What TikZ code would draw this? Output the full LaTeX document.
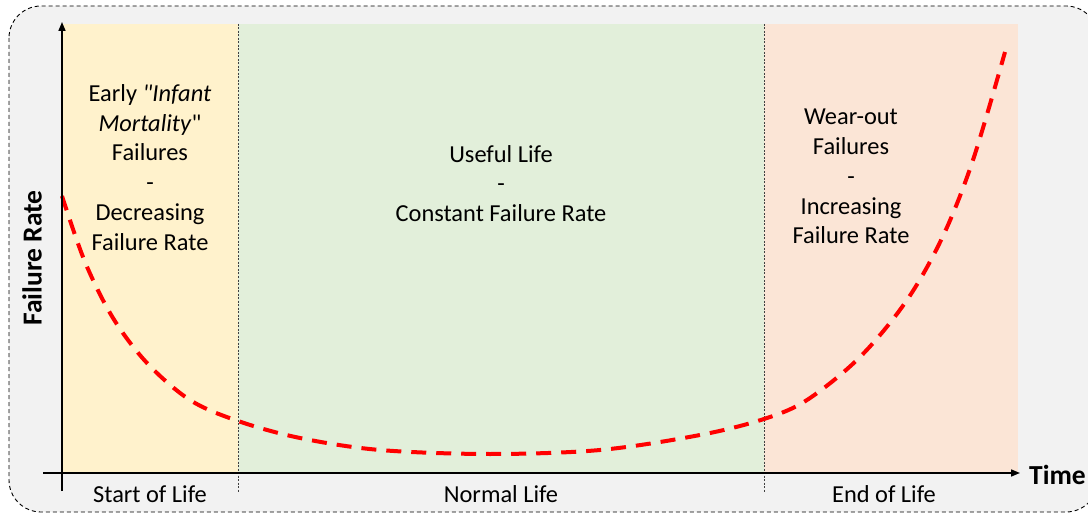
\documentclass[tikz,border=0pt]{standalone}
\usepackage{fontspec}
\setmainfont{Carlito}[Ligatures=TeXOff]
\usetikzlibrary{arrows.meta}
\definecolor{bggray}{HTML}{F2F2F2}
\definecolor{earlyc}{HTML}{FFF2CC}
\definecolor{usefulc}{HTML}{E2EFDA}
\definecolor{wearc}{HTML}{FBE5D6}
\definecolor{curvered}{HTML}{FF0000}
\tikzset{
  txt/.style={align=center,font=\fontsize{24.4bp}{29.8bp}\selectfont,text=black,inner sep=0pt},
  lbl/.style={font=\fontsize{24.4bp}{29bp}\selectfont,text=black,inner sep=0pt},
  axlbl/.style={font=\fontsize{27.5bp}{32bp}\selectfont\bfseries,text=black,inner sep=0pt},
  axis/.style={line width=1.6bp,black,-{Triangle[length=9bp,width=7bp]}},
  divider/.style={line width=0.8bp,black!75,dash pattern=on 2bp off 1.5bp},
  bathtub/.style={line width=4bp,curvered,dash pattern=on 15bp off 10bp},
}
\begin{document}
\begin{tikzpicture}[x=1bp,y=-1bp]
\useasboundingbox (0,0) rectangle (1088,514);
% outer frame
\draw[fill=bggray,dashed,dash pattern=on 4bp off 3bp,line width=0.9bp,rounded corners=32bp] (9,6) rectangle (1098,512);
% regions
\fill[earlyc] (62,24) rectangle (238,473);
\fill[usefulc] (238,24) rectangle (764,473);
\fill[wearc] (764,24) rectangle (1018,473);
% dividers
\coordinate (d1t) at (238,24); \coordinate (d1b) at (238,493);
\coordinate (d2t) at (764,24); \coordinate (d2b) at (764,493);
\draw[divider] (d1t) -- (d1b);
\draw[divider] (d2t) -- (d2b);
% curve
\draw[bathtub] plot[smooth,tension=0.55] coordinates {
 (62,196) (85,262) (113,318) (147,363) (190,400) (238,421)
 (300,438) (380,450) (490,454) (600,450) (700,435) (764,419)
 (807,400) (860,357) (907,300) (943,236) (973,160) (1005,52)};
% axes
\coordinate (yaxb) at (62,491); \coordinate (yaxt) at (62,22);
\coordinate (xaxl) at (43,473); \coordinate (xaxr) at (1020,473);
\draw[axis] (yaxb) -- (yaxt);
\draw[axis] (xaxl) -- (xaxr);
% axis labels
\node[axlbl,rotate=90] (ylab) at (32,258) {Failure Rate};
\node[axlbl,anchor=west] (xlab) at (1029,475) {Time};
% region texts
\node[txt] (early) at (150,167.5) {Early \textit{"Infant}\\\textit{Mortality}"\\Failures\\-\\Decreasing\\Failure Rate};
\node[txt] (useful) at (501,183.5) {Useful Life\\-\\Constant Failure Rate};
\node[txt] (wear) at (851,176.5) {Wear-out\\Failures\\-\\Increasing\\Failure Rate};
% bottom labels
\node[lbl] (start) at (150,494) {Start of Life};
\node[lbl] (normal) at (501,494) {Normal Life};
\node[lbl] (endl) at (884,494) {End of Life};
\end{tikzpicture}
\end{document}
